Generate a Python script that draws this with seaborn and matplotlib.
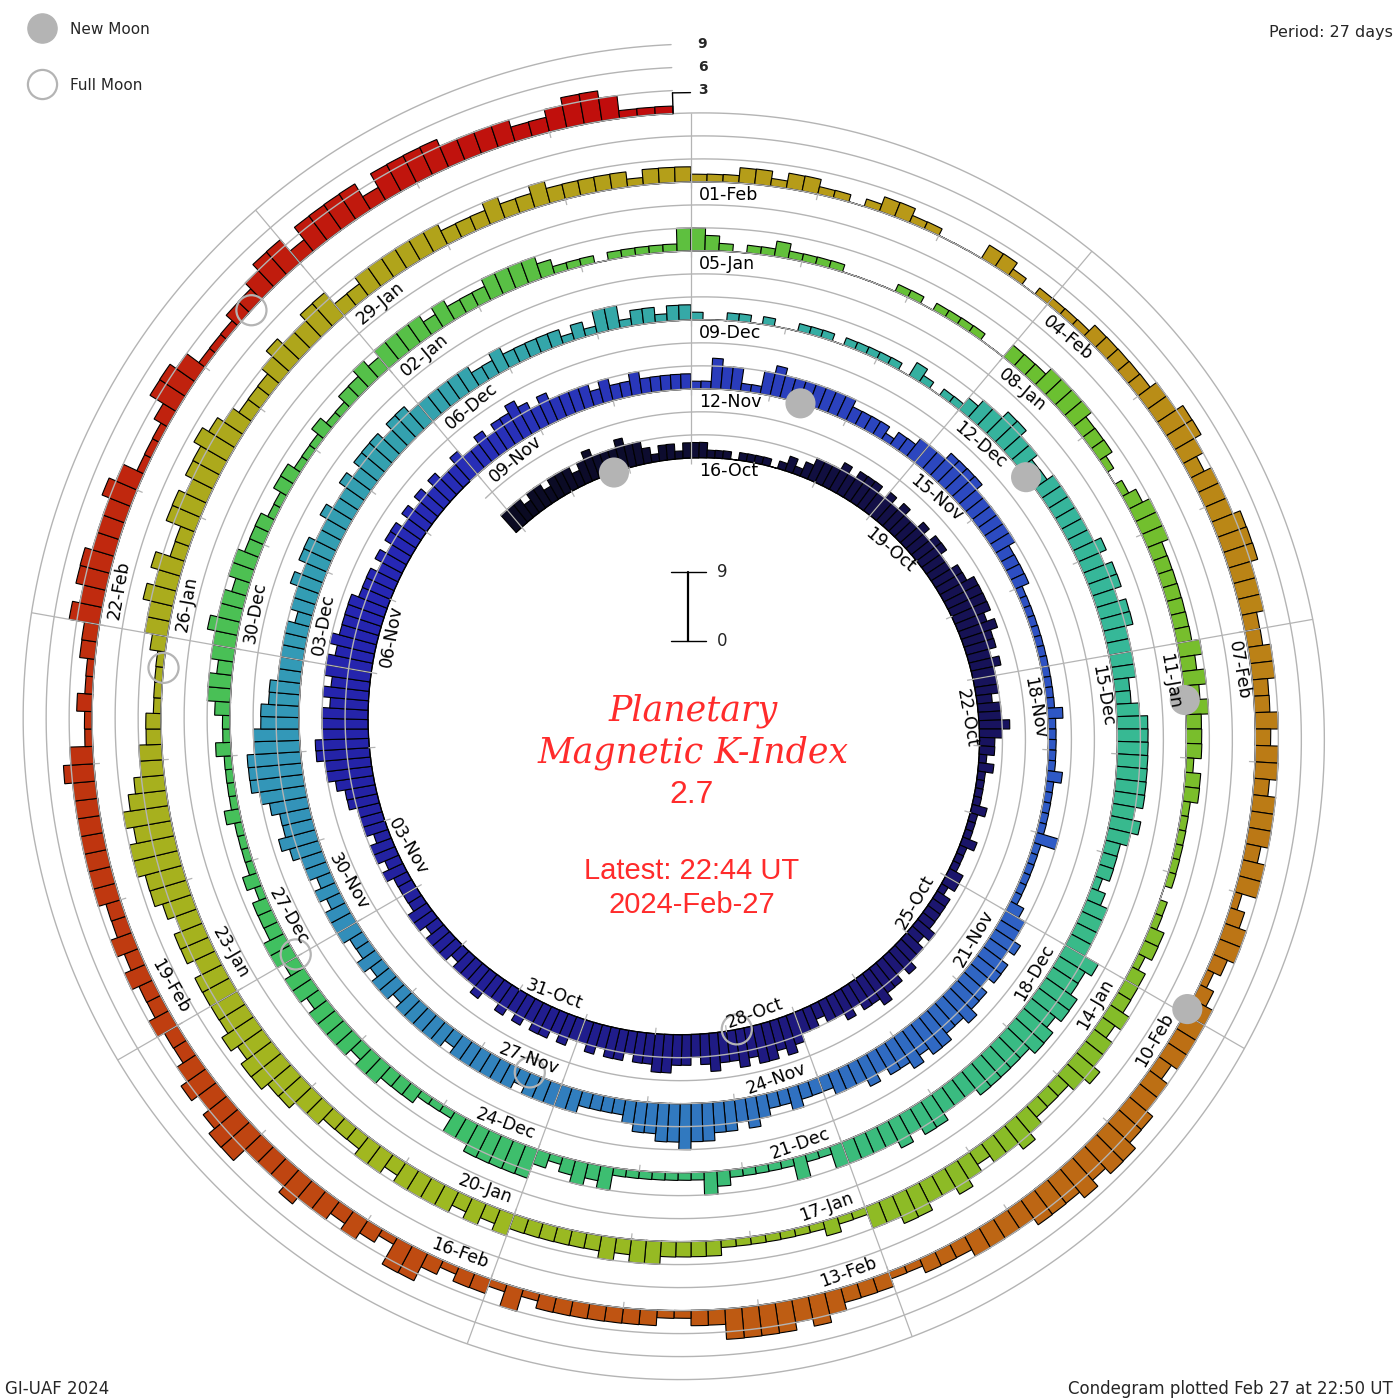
import numpy as np
import pandas as pd
import matplotlib
matplotlib.use("Agg")
import matplotlib.pyplot as plt
import seaborn as sns
from matplotlib.lines import Line2D

# ------------------------------------------------------------------ data
start_time = "2023-10-12 21:00"      # first 3-hour Kp bar
ref_date = "2023-10-16 00:00"        # date at the top of the spiral
period_days = 27

kp_pre = [3,3,3,2,3,3,2,3, 3,3,2,3,4,3,3,3, 4,3,3,2,1,2,2,1,2]
kp_rev0 = [2,2,1,1,1,0,1,1, 1,1,0,1,2,1,2,3, 3,3,4,3,4,4,4,3,
           4,3,4,3,3,4,3,4, 4,3,3,4,4,5,5,5, 5,4,5,4,4,3,4,3,
           3,3,2,3,3,4,3,2, 2,1,2,1,1,1,1,2, 1,1,1,2,1,1,1,2,
           2,1,2,2,2,2,3,2, 3,3,4,3,4,4,5,4, 4,3,4,3,3,2,3,3,
           4,5,4,5,5,4,5,4, 4,5,4,3,4,4,5,5, 4,4,3,4,4,3,4,3,
           3,4,3,4,4,3,4,3, 4,3,3,4,3,3,3,2, 3,3,3,2,3,3,2,2,
           2,2,3,2,3,3,2,3, 3,3,4,4,5,6,6,7, 7,6,6,6,5,6,5,6,
           6,5,6,5,5,5,5,4, 4,4,3,4,3,4,4,3, 4,3,4,3,4,3,3,4,
           3,3,4,3,4,4,5,4, 3,4,3,3,3,3,2,3, 2,2,3,2,2,2,2,2]
kp_rev1 = [1,1,4,3,3,1,1,3, 4,3,3,3,3,3,3,3, 2,2,2,2,1,2,2,3,
           3,3,4,4,4,4,3,3, 3,3,3,3,2,2,2,2, 1,1,1,1,1,1,1,1,
           1,1,1,1,2,1,1,1, 1,1,2,1,1,1,1,1, 3,1,1,1,1,1,1,2,
           3,3,4,3,4,4,3,4, 4,5,4,4,5,5,4,5, 4,4,3,4,3,3,3,2,
           2,2,3,2,2,3,4,3, 4,4,5,5,6,5,5,4, 4,3,2,2,2,2,3,3,
           3,3,3,2,3,3,3,3, 3,3,2,3,3,3,3,3, 2,3,3,2,3,2,2,3,
           3,3,2,3,2,3,3,4, 5,4,4,5,6,7,7,7, 6,6,5,5,4,4,3,3,
           3,3,3,2,3,3,4,3, 4,4,3,3,4,3,3,4, 3,4,4,4,3,4,4,3,
           3,3,3,3,3,2,2,3, 2,2,2,2,2,1,2,1, 3,3,1,2,2,1,2,2]
kp_rev2 = [1,0,0,1,1,0,1,0, 0,1,1,1,0,1,1,1, 1,1,0,2,1,0,1,1,
           2,3,3,4,4,3,3,2, 2,3,3,3,3,3,3,4, 3,4,4,3,4,4,3,3,
           3,3,2,2,3,4,4,4, 4,4,4,4,3,4,3,2, 2,2,1,2,3,3,3,3,
           5,4,4,5,5,4,5,5, 4,4,4,4,4,3,3,3, 4,4,3,4,3,3,3,3,
           3,1,1,3,1,1,1,1, 1,2,3,1,1,1,1,1, 1,1,3,2,3,2,1,2,
           4,4,4,4,4,3,3,1, 1,1,2,2,2,3,3,2, 3,3,3,3,2,3,3,2,
           3,3,2,2,2,1,2,1, 1,1,1,2,1,1,1,1, 2,1,1,2,3,3,2,3,
           3,4,3,3,2,3,3,2, 2,2,1,1,2,2,1,1, 1,2,1,1,2,2,3,2,
           3,3,3,3,2,3,2,2, 2,3,3,3,3,2,1,1, 1,0,1,1,1,1,1,3]
kp_rev3 = [3,2,1,0,1,1,2,1, 1,1,1,0,0,0,0,1, 1,0,1,1,1,1,0,0,
           2,2,2,3,3,3,3,2, 2,2,1,0,1,2,3,3, 3,2,2,2,2,2,2,2,
           3,2,3,2,3,2,2,2, 1,2,2,1,1,1,1,1, 1,0,1,1,2,2,1,2,
           2,2,3,2,3,3,4,3, 2,2,2,3,4,3,3,2, 3,4,3,3,4,4,3,3,
           1,1,2,1,1,1,1,1, 1,1,2,2,2,2,3,3, 2,3,2,2,2,2,2,2,
           3,2,3,2,3,3,3,3, 2,3,3,2,2,2,3,3, 4,4,5,5,4,5,4,4,
           4,4,3,4,4,3,4,5, 5,6,6,5,6,5,4,3, 3,2,2,1,1,1,1,2,
           3,3,4,3,4,2,2,4, 4,3,4,4,5,4,3,2, 2,2,3,4,3,3,4,4,
           2,2,3,3,3,3,3,3, 2,2,2,3,2,2,3,2, 2,2,2,2,1,2,2,2]
kp_rev4 = [1,1,1,2,2,1,2,2, 1,1,0,1,2,2,1,1, 0,0,0,2,2,1,0,1,
           1,1,1,2,2,2,2,2, 3,3,4,4,3,2,3,3, 3,4,4,4,3,3,3,2,
           2,3,3,2,2,3,2,3, 3,2,3,3,3,2,3,3, 1,2,3,3,2,1,2,3,
           3,3,3,2,3,3,4,4, 5,5,4,5,4,4,4,3, 3,3,3,2,2,2,1,1,
           2,2,2,3,4,3,4,4, 4,4,2,2,1,1,2,2, 2,2,2,2,2,1,3,1,
           2,2,1,2,4,4,1,2, 3,2,3,3,4,3,3,3, 5,5,4,3,4,3,2,2,
           3,2,2,3,2,3,2,2, 3,3,3,3,3,3,3,4, 3,1,1,2,1,1,2,2,
           4,3,4,4,3,3,3,4, 3,1,1,1,2,4,4,3, 1,1,1,2,2,3,4,4,
           2,4,4,4,4,2,4,4, 4,4,3,3,3,3,2,2, 3,4,4,3,1,1,1]

new_moons = ["2023-10-14 17:55", "2023-11-13 09:27", "2023-12-12 23:32",
             "2024-01-11 11:57", "2024-02-09 22:59"]
full_moons = ["2023-10-28 20:24", "2023-11-27 09:16", "2023-12-27 00:33",
              "2024-01-25 17:54", "2024-02-24 12:30"]
latest_kp = 2.7
level_labels = ["3", "6", "9"]
title_lines = ["Planetary", "Magnetic K-Index"]
latest_lines = ["Latest: 22:44 UT", "2024-Feb-27"]
legend_labels = ["New Moon", "Full Moon"]
period_text = "Period: 27 days"
left_footer = "GI-UAF 2024"
right_footer = "Condegram plotted Feb 27 at 22:50 UT"
colour_stops = ["#0a0a22", "#1c1670", "#2626b4", "#2f5ac6", "#3398b8", "#36b898",
                "#40c060", "#6cc030", "#a0b820", "#b89a18", "#bf5512", "#c00c0c"]

# ------------------------------------------------------------------ style
sns.set_style("white")
plt.rcParams["font.family"] = ["DejaVu Sans"]

W = H = 1400
CX, CY = 691, 729          # spiral centre in pixels (from top-left)
R0 = 271.0                 # radius of the baseline at ref_date
DR = 69.0                  # growth of the baseline per period
PX_KP = DR / 9.0           # pixels per Kp unit
GUIDE = "#b4b4b4"
RED = "#ff2b2b"

kp = np.array(kp_pre + kp_rev0 + kp_rev1 + kp_rev2 + kp_rev3 + kp_rev4, float)
t_ref = pd.Timestamp(ref_date)
times = pd.Timestamp(start_time) + pd.to_timedelta(np.arange(len(kp)) * 3, unit="h")
tdays = np.asarray((times - t_ref) / pd.Timedelta(days=1), float)
dt = 0.125
t_first, t_last = tdays[0], tdays[-1] + dt


def ang(td):
    return 2 * np.pi * np.asarray(td) / period_days


def base(td):
    return R0 + DR * np.asarray(td) / period_days


fig = plt.figure(figsize=(W / 100, H / 100), dpi=100)
fig.patch.set_facecolor("white")
ax = fig.add_axes([(CX - 700) / W, (H - CY - 700) / H, 1400 / W, 1400 / H],
                  projection="polar")
ax.set_theta_zero_location("N")
ax.set_theta_direction(-1)
ax.set_ylim(0, 700)
ax.grid(False)
ax.set_xticks([])
ax.set_yticks([])
ax.spines["polar"].set_visible(False)
ax.patch.set_alpha(0)

cmap = sns.blend_palette(colour_stops, as_cmap=True)
tn = (tdays + dt / 2 - t_first) / (t_last - t_first)
ax.bar(ang(tdays), kp * PX_KP, width=ang(dt), bottom=base(tdays + dt / 2),
       align="edge", color=cmap(tn), edgecolor="black", linewidth=0.8, zorder=2)

# black baseline of the spiral (visible where Kp is near zero)
tt = np.linspace(t_first, t_last, 4000)
ax.plot(ang(tt), base(tt), color="black", lw=0.9, zorder=2.5)

# guide spirals at Kp 3, 6, 9
for k in (1, 2, 3):
    ax.plot(ang(tt), base(tt) + 3 * k * PX_KP, color=GUIDE, lw=1.0, zorder=3)

# spokes every 3 days
for k in range(9):
    tk = 3 * k + period_days * np.arange(-2, 8)
    tk = tk[(tk >= t_first) & (tk <= t_last)]
    ax.vlines(ang(tk[0]), base(tk[0]), base(tk[-1]) + DR, color=GUIDE, lw=0.9, zorder=3)

# day ticks
days = np.arange(np.ceil(t_first), np.floor(t_last) + 1)
ax.vlines(ang(days), base(days) - 6, base(days) + 1, color=GUIDE, lw=0.9, zorder=3)

# date labels
for d in range(0, int(t_last) - 4, 3):
    th = (d % period_days) / period_days * 360.0
    r = base(d) - 13
    off = 8.0 / r
    txt = (t_ref + pd.Timedelta(days=d)).strftime("%d-%b")
    if 90 < th < 270:
        rot, ha = 180 - th, "right"
    else:
        rot, ha = -th, "left"
    ax.text(ang(d) + off, r, txt, rotation=rot, rotation_mode="anchor",
            ha=ha, va="center", fontsize=12.5, color="black", zorder=5)

# moons
t_new = np.asarray((pd.to_datetime(new_moons) - t_ref) / pd.Timedelta(days=1), float)
t_full = np.asarray((pd.to_datetime(full_moons) - t_ref) / pd.Timedelta(days=1), float)
ax.scatter(ang(t_new), base(t_new), s=470, color="#b4b4b4", edgecolors="none", zorder=4)
ax.scatter(ang(t_full), base(t_full), s=470, facecolors="none", edgecolors="#b4b4b4",
           linewidths=1.6, zorder=4)

# latest-value marker and level labels at the end of the spiral
rb = base(t_last)
rt = rb + latest_kp * PX_KP
ax.plot([ang(t_last)] * 2, [rb, rt], color="black", lw=1.0, zorder=5)
ax.plot([ang(t_last), ang(t_last) + 18 / rt], [rt, rt], color="black", lw=1.0, zorder=5)
for i, lab in enumerate(level_labels):
    rr = rb + 3 * (i + 1) * PX_KP
    ax.text(ang(t_last) + 31 / rr, rr, lab, ha="center", va="center",
            fontsize=10, fontweight="bold", zorder=5)

# ------------------------------------------------------------------ overlay texts
ov = fig.add_axes([0, 0, 1, 1])
ov.set_xlim(0, W)
ov.set_ylim(H, 0)
ov.axis("off")

# Kp scale bar
y0 = 641
y9 = y0 - 9 * PX_KP
ov.plot([688, 688], [y0, y9], color="black", lw=1.6)
ov.plot([671, 706], [y0, y0], color="black", lw=1.0)
ov.plot([671, 706], [y9, y9], color="black", lw=1.0)
ov.text(717, y9, "9", ha="left", va="center", fontsize=12)
ov.text(717, y0, "0", ha="left", va="center", fontsize=12)

ov.text(693, 711, title_lines[0], ha="center", va="center", color=RED,
        fontsize=25, family="DejaVu Serif", style="italic")
ov.text(693, 753, title_lines[1], ha="center", va="center", color=RED,
        fontsize=25, family="DejaVu Serif", style="italic")
ov.text(692, 795, f"{latest_kp:.1f}", ha="center", va="center", color=RED,
        fontsize=23, family="Liberation Sans")
ov.text(692, 871, latest_lines[0], ha="center", va="center", color=RED,
        fontsize=21, family="Liberation Sans")
ov.text(692, 905, latest_lines[1], ha="center", va="center", color=RED,
        fontsize=21, family="Liberation Sans")

ov.text(1393, 32, period_text, ha="right", va="center", fontsize=11.5)
ov.text(5, 1389, left_footer, ha="left", va="center", fontsize=12)
ov.text(1393, 1389, right_footer, ha="right", va="center", fontsize=12)

handles = [Line2D([], [], ls="", marker="o", markersize=21, markerfacecolor="#b4b4b4",
                  markeredgecolor="#b4b4b4"),
           Line2D([], [], ls="", marker="o", markersize=21, markerfacecolor="none",
                  markeredgecolor="#b4b4b4", markeredgewidth=1.6)]
ov.legend(handles, legend_labels, loc="upper left", bbox_to_anchor=(0.017, 0.989),
          frameon=False, fontsize=11, labelspacing=2.7, handletextpad=1.0,
          borderaxespad=0, handlelength=1.6)

fig.savefig("out.png", dpi=100, facecolor="white")
